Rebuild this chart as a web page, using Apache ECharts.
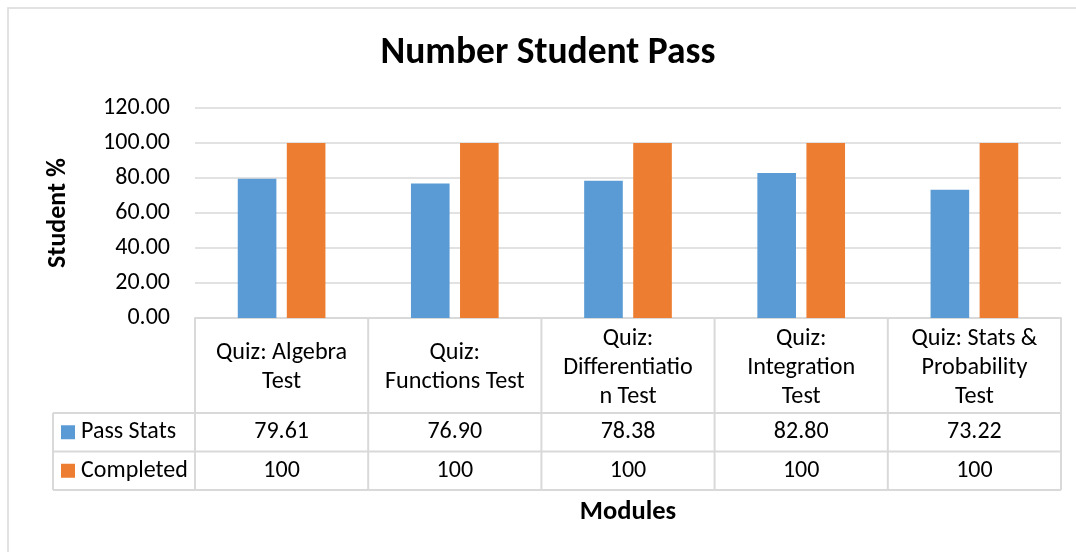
<!DOCTYPE html>
<html>
<head>
<meta charset="utf-8">
<style>
  html, body { margin: 0; padding: 0; background: #fff; }
  #chart { width: 1076px; height: 552px; }
</style>
<script src="https://cdn.jsdelivr.net/npm/echarts@6/dist/echarts.min.js"></script>
</head>
<body>
<div id="chart"></div>
<script>
// data
const categories = [
  'Quiz: Algebra\nTest',
  'Quiz:\nFunctions Test',
  'Quiz:\nDifferentiatio\nn Test',
  'Quiz:\nIntegration\nTest',
  'Quiz: Stats &\nProbability\nTest'
];
const seriesNames = ['Pass Stats', 'Completed'];
const passStats = [79.61, 76.90, 78.38, 82.80, 73.22];
const completed = [100, 100, 100, 100, 100];
const tableText = [
  ['79.61', '76.90', '78.38', '82.80', '73.22'],
  ['100', '100', '100', '100', '100']
];
const yTicks = [0, 20, 40, 60, 80, 100, 120];

const FONT = "Carlito, 'Open Sans', sans-serif";
const colors = ['#5b9bd5', '#ed7d31'];
const lineColor = '#d9d9d9';

var chart = echarts.init(document.getElementById('chart'));

var option = {
  animation: false,
  textStyle: { fontFamily: FONT },
  grid: { left: 195, right: 15, top: 108, bottom: 234 },
  xAxis: {
    type: 'category',
    data: categories,
    name: 'Modules',
    nameLocation: 'middle',
    nameGap: 181,
    nameTextStyle: { fontFamily: FONT, fontSize: 26.5, fontWeight: 'bold', color: '#000' },
    axisLine: { show: true, lineStyle: { color: lineColor, width: 2 } },
    axisTick: { show: false },
    axisLabel: {
      interval: 0,
      margin: 49.5,
      verticalAlign: 'middle',
      lineHeight: 29,
      fontFamily: FONT,
      fontSize: 24.2,
      color: '#000'
    }
  },
  yAxis: {
    type: 'value',
    min: yTicks[0],
    max: yTicks[yTicks.length - 1],
    interval: 20,
    name: 'Student %',
    nameLocation: 'middle',
    nameRotate: 90,
    nameGap: 124,
    nameTextStyle: { fontFamily: FONT, fontSize: 26, fontWeight: 'bold', color: '#000' },
    axisLine: { show: false },
    axisTick: { show: false },
    axisLabel: {
      margin: 25,
      fontFamily: FONT,
      fontSize: 24,
      color: '#000',
      formatter: function (v) { return v.toFixed(2); }
    },
    splitLine: { lineStyle: { color: lineColor, width: 1.5 } }
  },
  series: [
    { name: seriesNames[0], type: 'bar', data: passStats, barWidth: '22.3%', barGap: '27%',
      itemStyle: { color: colors[0] } },
    { name: seriesNames[1], type: 'bar', data: completed, barWidth: '22.3%',
      itemStyle: { color: colors[1] } }
  ]
};
chart.setOption(option);

// data table under the axis, placed from the axis scale
function buildTable() {
  var n = categories.length;
  var c0 = chart.convertToPixel({ xAxisIndex: 0 }, 0);
  var c1 = chart.convertToPixel({ xAxisIndex: 0 }, 1);
  var band = c1 - c0;
  var xLeft = c0 - band / 2;
  var xRight = xLeft + band * n;
  var y0 = chart.convertToPixel({ yAxisIndex: 0 }, 0);
  var rowTop = y0 + 95;
  var rowH = 38.5;
  var legendLeft = 53;

  var els = [];
  var ls = { stroke: lineColor, lineWidth: 2 };

  // chart border
  els.push({ type: 'rect', shape: { x: 8, y: 8, width: 1100, height: 600 },
    style: { fill: null, stroke: lineColor, lineWidth: 1.5 }, silent: true });

  // title
  els.push({ type: 'text', x: 548, y: 54,
    style: { text: 'Number Student Pass', fontFamily: FONT, fontSize: 37.5, fontWeight: 'bold',
      fill: '#000', align: 'center', verticalAlign: 'middle' } });

  // horizontal lines
  for (var r = 0; r < 3; r++) {
    var yy = rowTop + r * rowH;
    els.push({ type: 'line', shape: { x1: legendLeft, y1: yy, x2: xRight, y2: yy }, style: ls });
  }
  // vertical lines
  for (var i = 0; i <= n; i++) {
    var xx = xLeft + i * band;
    els.push({ type: 'line', shape: { x1: xx, y1: y0, x2: xx, y2: rowTop + 2 * rowH }, style: ls });
  }
  els.push({ type: 'line', shape: { x1: legendLeft, y1: rowTop, x2: legendLeft, y2: rowTop + 2 * rowH }, style: ls });

  // legend keys + values
  for (var s = 0; s < seriesNames.length; s++) {
    var cy = rowTop + rowH * s + rowH / 2;
    els.push({ type: 'rect', shape: { x: 61, y: cy - 7, width: 14, height: 14 },
      style: { fill: colors[s] } });
    els.push({ type: 'text', x: 81, y: cy,
      style: { text: seriesNames[s], fontFamily: FONT, fontSize: 24, fill: '#000',
        align: 'left', verticalAlign: 'middle' } });
    for (var k = 0; k < n; k++) {
      els.push({ type: 'text', x: chart.convertToPixel({ xAxisIndex: 0 }, k), y: cy,
        style: { text: tableText[s][k], fontFamily: FONT, fontSize: 24, fill: '#000',
          align: 'center', verticalAlign: 'middle' } });
    }
  }
  chart.setOption({ graphic: els });
}
buildTable();
</script>
</body>
</html>
